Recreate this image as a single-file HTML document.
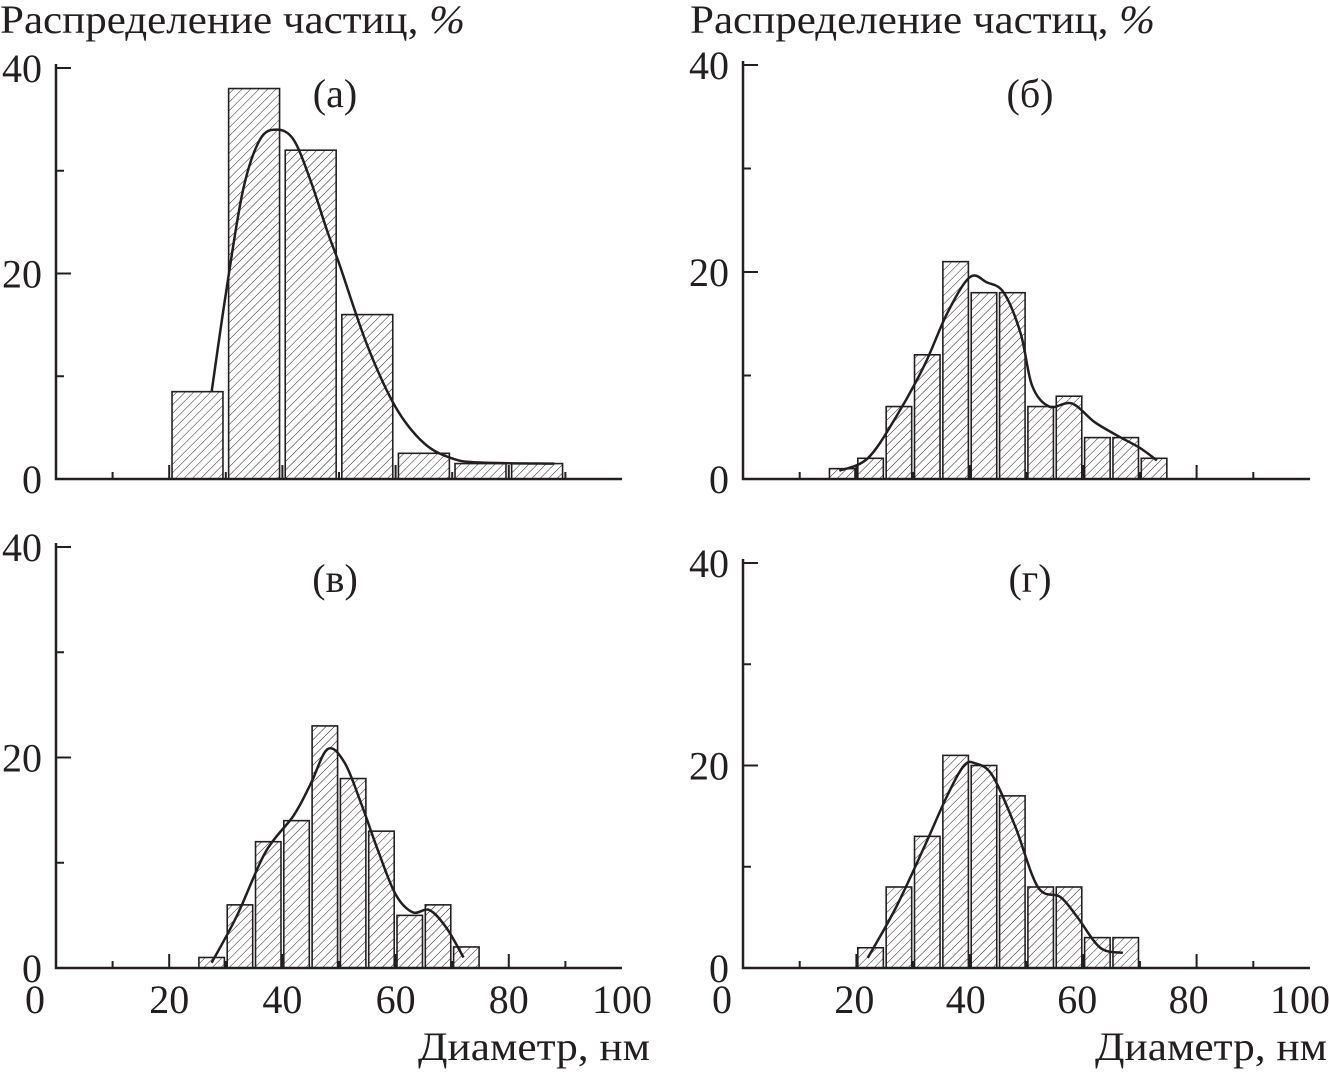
<!DOCTYPE html>
<html><head><meta charset="utf-8">
<style>
html,body{margin:0;padding:0;background:#fff;}
svg{display:block;}
text{font-family:"Liberation Serif",serif;fill:#231f20;}
</style></head>
<body>
<svg id="chart" width="1329" height="1074" viewBox="0 0 1329 1074" xmlns="http://www.w3.org/2000/svg">
<defs>
<pattern id="hatch" patternUnits="userSpaceOnUse" width="6" height="6" patternTransform="rotate(45)">
<line x1="0" y1="0" x2="0" y2="6" stroke="#231f20" stroke-width="1"/>
</pattern>
</defs>
<text x="0" y="33" font-size="40" textLength="465" lengthAdjust="spacingAndGlyphs">Распределение частиц, <tspan font-style="italic">%</tspan></text>
<text x="690" y="33" font-size="40" textLength="465" lengthAdjust="spacingAndGlyphs">Распределение частиц, <tspan font-style="italic">%</tspan></text>
<text x="418" y="1060" font-size="40" textLength="232" lengthAdjust="spacingAndGlyphs">Диаметр, нм</text>
<text x="1095" y="1060" font-size="40" textLength="232" lengthAdjust="spacingAndGlyphs">Диаметр, нм</text>
<g id="panels"></g>
</svg>
<script>
// Panel (а)
const centersA = [25,35,45,55,65,75,85];
const valuesA = [8.5,38,32,16,2.5,1.5,1.5];
const curveXA = [27.5,30,33,36,39,42,45,48,50,55,60,65,70,75,88];
const curveYA = [8.5,18,28,33,34,33,29,24,21,13,7,3.5,2,1.6,1.5];
// Panel (б)
const centersB = [17.5,22.5,27.5,32.5,37.5,42.5,47.5,52.5,57.5,62.5,67.5,72.5];
const valuesB = [1,2,7,12,21,18,18,7,8,4,4,2];
const curveXB = [17,22,27,32,36,40,43,46,49,51,54,58,62,66,70,73];
const curveYB = [0.8,2,6,11,16,19.5,19,18,14,9,7,7.3,5.5,4.2,3,1.8];
// Panel (в)
const centersC = [27.5,32.5,37.5,42.5,47.5,52.5,57.5,62.5,67.5,72.5];
const valuesC = [1,6,12,14,23,18,13,5,6,2];
const curveXC = [27.5,32,37,42,45,48,51,54,57,60,63,66,69,72];
const curveYC = [0.5,5,11,14.5,17.5,20.8,19.5,15.5,11,7,5.3,5.5,3.8,1];
// Panel (г)
const centersD = [22.5,27.5,32.5,37.5,42.5,47.5,52.5,57.5,62.5,67.5];
const valuesD = [2,8,13,21,20,17,8,8,3,3];
const curveXD = [22,27,32,36,39,41,44,48,52,56,59,63,67];
const curveYD = [1,6,12,17,20,20.2,19,14,8,7,5,2,1.5];
const panelLabels = ["(а)","(б)","(в)","(г)"];
const xTicks = [0,20,40,60,80,100];
const yTicks = [0,20,40];

const NS="http://www.w3.org/2000/svg";
const root=document.getElementById('panels');
function mk(tag,attrs,parent){const e=document.createElementNS(NS,tag);for(const k in attrs)e.setAttribute(k,attrs[k]);(parent||root).appendChild(e);return e;}

const panels=[
 {x0:56,x1:622,y0:479,y40:68,bw:9,c:centersA,v:valuesA,cx:curveXA,cy:curveYA,lab:panelLabels[0],lx:335,ly:107,xl:false,ls:0,name:'panel-a'},
 {x0:743,x1:1310,y0:479,y40:65,bw:4.5,c:centersB,v:valuesB,cx:curveXB,cy:curveYB,lab:panelLabels[1],lx:1030,ly:107,xl:false,ls:0,name:'panel-b'},
 {x0:56,x1:622,y0:968,y40:547,bw:4.5,c:centersC,v:valuesC,cx:curveXC,cy:curveYC,lab:panelLabels[2],lx:335,ly:592,xl:true,ls:0,name:'panel-c'},
 {x0:743,x1:1310,y0:968,y40:563,bw:4.5,c:centersD,v:valuesD,cx:curveXD,cy:curveYD,lab:panelLabels[3],lx:1030,ly:592,xl:true,ls:-10,name:'panel-d'}
];
panels.forEach(p=>{
 const g=mk('g',{});
 
 
 const sx=v=>p.x0+(v/100)*(p.x1-p.x0);
 const sy=v=>p.y0-(v/40)*(p.y0-p.y40);
 p.c.forEach((c,i)=>{
  const r=mk('rect',{x:sx(c-p.bw/2),y:sy(p.v[i]),width:sx(c+p.bw/2)-sx(c-p.bw/2),height:p.y0-sy(p.v[i]),fill:'url(#hatch)',stroke:'#231f20','stroke-width':1.6},g);
  
  
 });
 const ax=mk('path',{d:`M${p.x0},${sy(40)-4}V${p.y0}H${p.x1}`,fill:'none',stroke:'#231f20','stroke-width':2.5},g);
 
 
 [10,20,30,40].forEach(t=>{
  mk('line',{x1:p.x0,x2:p.x0+(t%20===0?15:8),y1:sy(t),y2:sy(t),stroke:'#231f20','stroke-width':2},g);
 });
 [10,20,30,40,50,60,70,80,90].forEach(t=>{
  mk('line',{x1:sx(t),x2:sx(t),y1:p.y0,y2:p.y0-(t%20===0?14:7),stroke:'#231f20','stroke-width':2},g);
 });
 yTicks.forEach(t=>{
  const tx=mk('text',{x:p.x0-14,y:sy(t)+14,'font-size':40,'text-anchor':'end'},g);
  tx.textContent=t;
  
  
 });
 if(p.xl){xTicks.forEach(t=>{
  const tx=mk('text',{x:t===0?p.x0-21:sx(t)+p.ls*t/100,y:1013,'font-size':40,'text-anchor':'middle'},g);
  tx.textContent=t;
  
  
 });}
 const pts=p.cx.map((x,i)=>[sx(x),sy(p.cy[i])]);
 let d=`M${pts[0][0]},${pts[0][1]}`;
 for(let i=0;i<pts.length-1;i++){
  const p0=pts[Math.max(0,i-1)],p1=pts[i],p2=pts[i+1],p3=pts[Math.min(pts.length-1,i+2)];
  d+=`C${p1[0]+(p2[0]-p0[0])/6},${p1[1]+(p2[1]-p0[1])/6} ${p2[0]-(p3[0]-p1[0])/6},${p2[1]-(p3[1]-p1[1])/6} ${p2[0]},${p2[1]}`;
 }
 const cv=mk('path',{d:d,fill:'none',stroke:'#231f20','stroke-width':2.5},g);
 
 
 const lb=mk('text',{x:p.lx,y:p.ly,'font-size':40,'text-anchor':'middle'},g);
 lb.textContent=p.lab;
 
 
});
</script>
</body></html>
